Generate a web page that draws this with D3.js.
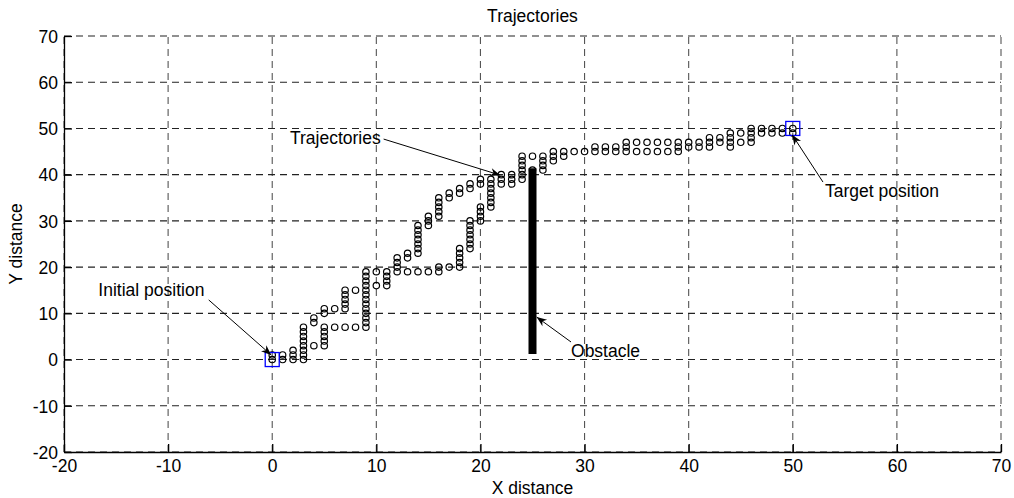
<!DOCTYPE html>
<html>
<head>
<meta charset="utf-8">
<title>Trajectories</title>
<script src="https://cdn.jsdelivr.net/npm/d3@7"></script>
<style>
  body { margin: 0; background: #fff; }
  text { font-family: "Liberation Sans", Arial, sans-serif; }
</style>
</head>
<body>
<div id="chart"></div>
<script>
'use strict';

//axis ticks
let xTicks = [-20, -10, 0, 10, 20, 30, 40, 50, 60, 70];
let yTicks = [-20, -10, 0, 10, 20, 30, 40, 50, 60, 70];

//trajectory points, one entry per x column, listing the y values in it
let colX = [0, 1, 2, 3, 4, 5, 6, 7, 8, 9, 10, 11, 12, 13, 14, 15, 16, 17, 18, 19, 20, 21, 22, 23, 24, 25,
            26, 27, 28, 29, 30, 31, 32, 33, 34, 35, 36, 37, 38, 39, 40, 41, 42, 43, 44, 45, 46, 47, 48, 49, 50];
let colY = [
  [0, 1], [0, 1], [0, 1, 2], [0, 1, 2, 3, 4, 5, 6, 7], [3, 8, 9], [3, 4, 5, 6, 7, 10, 11], [7, 11],
  [7, 11, 12, 13, 14, 15], [7, 15], [7, 8, 9, 10, 11, 12, 13, 14, 15, 16, 17, 18, 19], [16, 19],
  [16, 17, 18, 19], [19, 20, 21, 22], [19, 22, 23], [19, 23, 24, 25, 26, 27, 28, 29], [19, 29, 30, 31],
  [19, 20, 31, 32, 33, 34, 35], [20, 35, 36], [20, 21, 22, 23, 24, 36, 37], [24, 25, 26, 27, 28, 29, 30, 37, 38],
  [30, 31, 32, 33, 38, 39], [33, 34, 35, 36, 37, 38, 39], [38, 39, 40], [38, 39, 40], [39, 40, 41, 42, 43, 44],
  [41, 44], [41, 42, 43, 44], [43, 44, 45], [44, 45], [45], [45], [45, 46], [45, 46], [45, 46], [45, 46, 47],
  [45, 47], [45, 47], [45, 47], [45, 47], [45, 46, 47], [46, 47], [46, 47], [46, 47, 48], [47, 48],
  [46, 47, 48, 49], [47, 49], [47, 48, 49, 50], [49, 50], [49, 50], [49, 50], [49, 50]
];

//start and target squares, obstacle segment
let squares = [[0, 0], [50, 50]];
let obstacle = {x: 25, y0: 1.2, y1: 41.4};

//annotations: label, text anchor point, arrow tail, arrow tip (all in data units)
let notes = [
  {label: 'Trajectories',     tx: 1.7,   ty: 46.6, x0: 10.7, y0: 47.7, x1: 21.9,  y1: 39.9},
  {label: 'Initial position', tx: -16.7, ty: 13.8, x0: -6.1, y0: 12.9, x1: -0.1,  y1: 1.0},
  {label: 'Obstacle',         tx: 28.7,  ty: 0.5,  x0: 28.7, y0: 3.8,  x1: 25.4,  y1: 9.2},
  {label: 'Target position',  tx: 53.1,  ty: 35.2, x0: 52.9, y0: 38.4, x1: 49.95, y1: 48.6}
];

let w = 1014;
let h = 498;
let margin = {top: 36, right: 13, bottom: 46, left: 64};
let fs = '17.5px';

let svg = d3.select('#chart').append('svg').attr('width', w).attr('height', h);

let x = d3.scaleLinear().domain([-20, 70]).range([margin.left, w - margin.right]);
let y = d3.scaleLinear().domain([-20, 70]).range([h - margin.bottom, margin.top]);

//grid lines (dashed)
svg.append('g').selectAll('line').data(xTicks).join('line')
  .attr('x1', d => x(d)).attr('x2', d => x(d)).attr('y1', y(-20)).attr('y2', y(70))
  .attr('stroke', '#555').attr('stroke-width', 1.1).attr('stroke-dasharray', '7,5');
svg.append('g').selectAll('line').data(yTicks).join('line')
  .attr('x1', x(-20)).attr('x2', x(70)).attr('y1', d => y(d)).attr('y2', d => y(d))
  .attr('stroke', '#222').attr('stroke-width', 1.1).attr('stroke-dasharray', '7,5');

//axes, ticks point inwards, plain hyphen for negatives
let fmt = d => String(d);
let xAxis = svg.append('g').attr('transform', `translate(0,${y(-20)})`)
  .call(d3.axisBottom(x).tickValues(xTicks).tickFormat(fmt).tickSizeInner(-8).tickSizeOuter(0).tickPadding(8));
let yAxis = svg.append('g').attr('transform', `translate(${x(-20)},0)`)
  .call(d3.axisLeft(y).tickValues(yTicks).tickFormat(fmt).tickSizeInner(-8).tickSizeOuter(0).tickPadding(6));
[xAxis, yAxis].forEach(a => {
  a.select('.domain').attr('stroke', '#000').attr('stroke-width', 1.3);
  a.selectAll('.tick line').attr('stroke', '#000').attr('stroke-width', 1.3);
  a.selectAll('.tick text').attr('fill', '#000').style('font-size', fs).style('font-family', '"Liberation Sans", Arial, sans-serif');
});
yAxis.selectAll('.tick text').attr('dy', '0.36em');

//obstacle bar
svg.append('line')
  .attr('x1', x(obstacle.x)).attr('x2', x(obstacle.x))
  .attr('y1', y(obstacle.y0)).attr('y2', y(obstacle.y1))
  .attr('stroke', '#000').attr('stroke-width', 8);

//trajectory markers
let pts = [];
colX.forEach((cx, i) => colY[i].forEach(cy => pts.push([cx, cy])));
svg.append('g').selectAll('circle').data(pts).join('circle')
  .attr('cx', d => x(d[0])).attr('cy', d => y(d[1])).attr('r', 3.2)
  .attr('fill', 'none').attr('stroke', '#000').attr('stroke-width', 1.2);

//start / target squares
svg.append('g').selectAll('rect').data(squares).join('rect')
  .attr('x', d => x(d[0]) - 7).attr('y', d => y(d[1]) - 7).attr('width', 14).attr('height', 14)
  .attr('fill', 'none').attr('stroke', '#0000ff').attr('stroke-width', 1.3);

//annotation arrows
let ann = svg.append('g');
notes.forEach(n => {
  let ax = x(n.x0), ay = y(n.y0), bx = x(n.x1), by = y(n.y1);
  let ang = Math.atan2(by - ay, bx - ax);
  ann.append('line').attr('x1', ax).attr('y1', ay).attr('x2', bx).attr('y2', by)
    .attr('stroke', '#000').attr('stroke-width', 1);
  //vback style head
  let L = 10, W = 4;
  let p = [
    [bx, by],
    [bx - L * Math.cos(ang) + W * Math.sin(ang), by - L * Math.sin(ang) - W * Math.cos(ang)],
    [bx - 0.7 * L * Math.cos(ang), by - 0.7 * L * Math.sin(ang)],
    [bx - L * Math.cos(ang) - W * Math.sin(ang), by - L * Math.sin(ang) + W * Math.cos(ang)]
  ];
  ann.append('path').attr('d', 'M' + p.join('L') + 'Z').attr('fill', '#000');
  ann.append('text').text(n.label).attr('x', x(n.tx)).attr('y', y(n.ty))
    .attr('fill', '#000').style('font-size', fs);
});

//title and axis labels
svg.append('text').text('Trajectories').attr('x', (x(-20) + x(70)) / 2).attr('y', 22)
  .attr('text-anchor', 'middle').style('font-size', fs);
svg.append('text').text('X distance').attr('x', (x(-20) + x(70)) / 2).attr('y', 494)
  .attr('text-anchor', 'middle').style('font-size', fs);
svg.append('text').text('Y distance')
  .attr('transform', `translate(22,${(y(-20) + y(70)) / 2}) rotate(-90)`)
  .attr('text-anchor', 'middle').style('font-size', fs);
</script>
</body>
</html>
